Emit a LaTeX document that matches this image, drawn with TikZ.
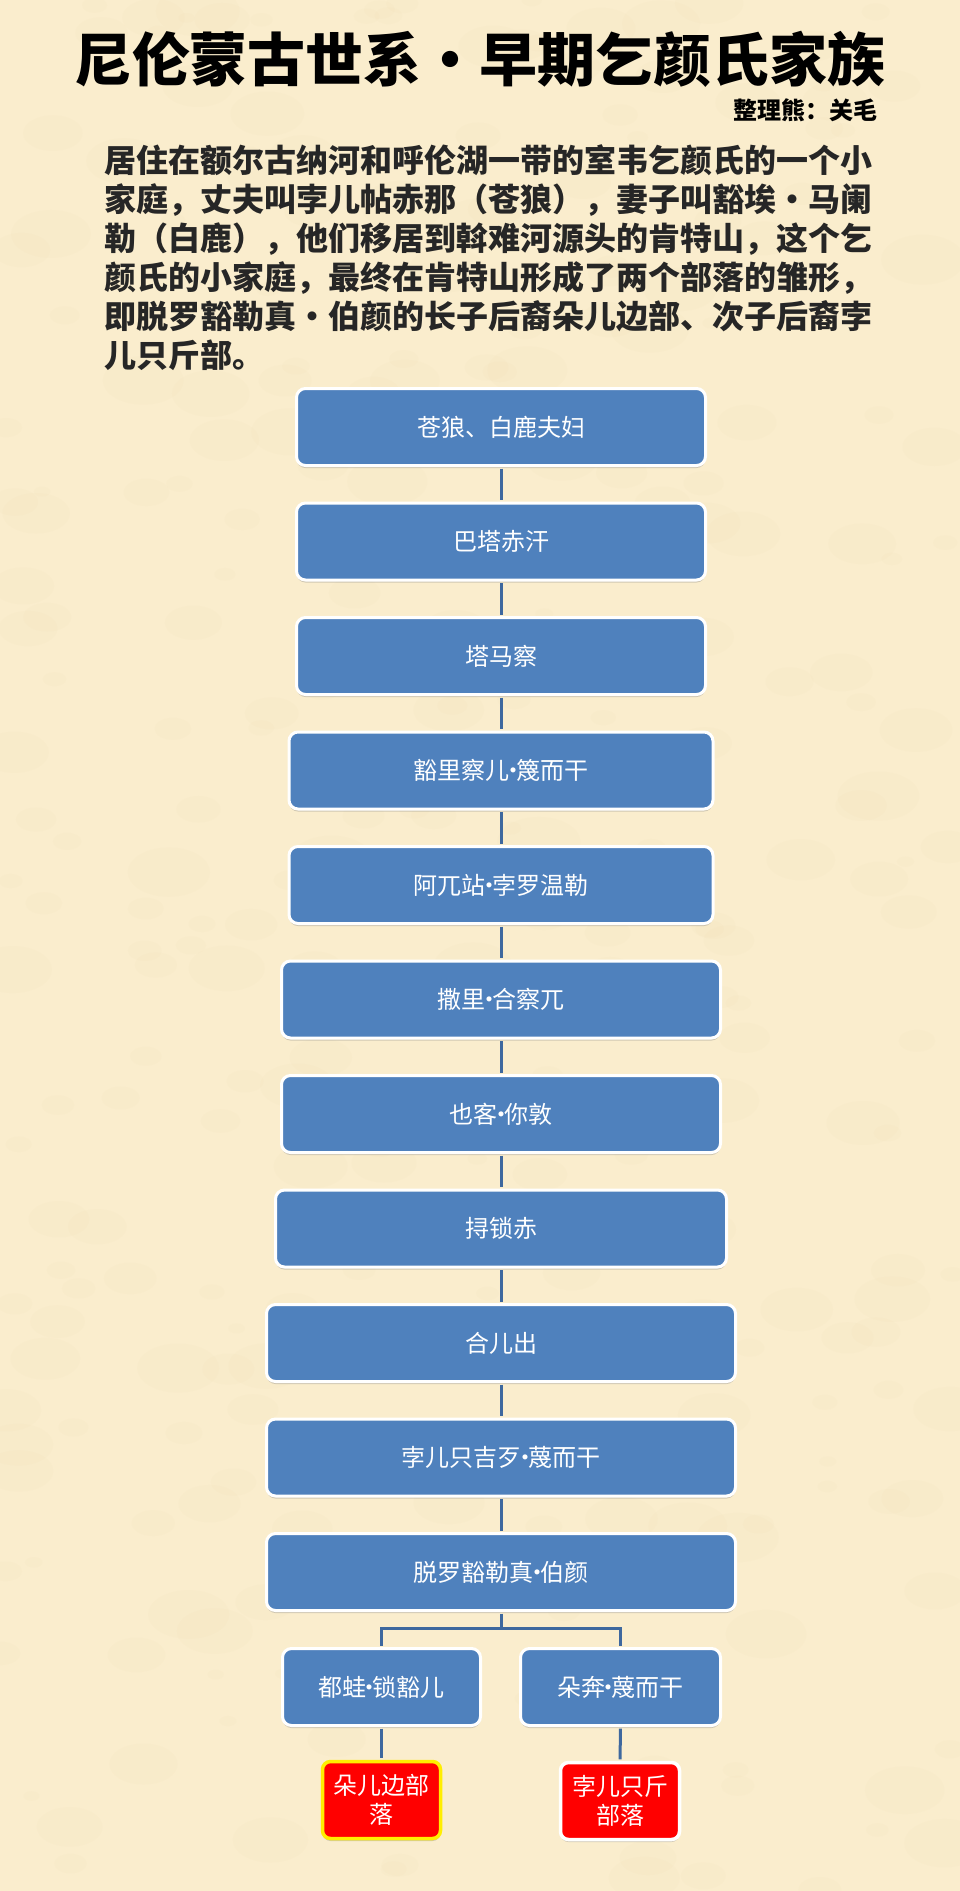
\documentclass[tikz,border=0pt]{standalone}
\usepackage{fontspec}
\newfontfamily\cjk{Noto Sans CJK SC}
\usetikzlibrary{shadows,calc}
\definecolor{bg}{RGB}{250,237,205}
\definecolor{blot}{RGB}{236,214,170}
\definecolor{boxblue}{RGB}{79,129,189}
\definecolor{linkblue}{RGB}{62,104,158}
\definecolor{tribered}{RGB}{255,0,0}
\definecolor{tribeyellow}{RGB}{255,238,0}
\newcommand{\mdot}{\makebox[1em]{·}}
\newcommand{\sdot}{\makebox[0.28em]{·}}
\begin{document}
\begin{tikzpicture}[x=1pt,y=-1pt,
  gen/.style={draw=white, line width=3pt, fill=boxblue, rounded corners=9pt,
    minimum height=77pt, text=white, font=\cjk\fontsize{24}{29}\selectfont,
    align=center, inner sep=0pt,
    drop shadow={shadow xshift=0pt, shadow yshift=-2.5pt, opacity=0.35}},
  tribe/.style={gen, fill=tribered, line width=3.5pt, minimum width=118pt,
    minimum height=77pt, rounded corners=8pt},
  link/.style={draw=linkblue, line width=3pt, shorten <=1.5pt, shorten >=1.5pt},
  para/.style={anchor=base west, inner sep=0pt, text=black!85,
    font=\cjk\bfseries\fontsize{32}{39}\selectfont},
]
\useasboundingbox (0,0) rectangle (960,1891);
% background
\fill[bg] (0,0) rectangle (960,1891);
\begin{scope}
\clip (0,0) rectangle (960,1891);
\pgfmathsetseed{11}
\foreach \i in {1,...,320}{
  \pgfmathsetmacro\xx{rnd*960}
  \pgfmathsetmacro\yy{rnd*1891}
  \pgfmathsetmacro\rr{8+rnd*34}
  \fill[blot, opacity=0.08] (\xx,\yy) ellipse [x radius=\rr, y radius=0.6*\rr];
}
\end{scope}

% title and editor
\node[font=\cjk\bfseries\fontsize{58}{62}\selectfont, text=black, inner sep=0pt]
  (title) at (480,59) {尼伦蒙古世系\mdot 早期乞颜氏家族};
\node[font=\cjk\bfseries\fontsize{24}{26}\selectfont, text=black, anchor=east, inner sep=0pt]
  (editor) at (878,110) {整理熊：关毛};

% paragraph
\node[para] (p1) at (104,172) {居住在额尔古纳河和呼伦湖一带的室韦乞颜氏的一个小};
\node[para] (p2) at (104,211) {家庭，丈夫叫孛儿帖赤那（苍狼），妻子叫豁埃\mdot 马阑};
\node[para] (p3) at (104,250) {勒（白鹿），他们移居到斡难河源头的肯特山，这个乞};
\node[para] (p4) at (104,289) {颜氏的小家庭，最终在肯特山形成了两个部落的雏形，};
\node[para] (p5) at (104,328) {即脱罗豁勒真\mdot 伯颜的长子后裔朵儿边部、次子后裔孛};
\node[para] (p6) at (104,367) {儿只斤部。};

% main lineage
\node[gen, minimum width=409pt] (b1)  at (501,427)    {苍狼、白鹿夫妇};
\node[gen, minimum width=409pt] (b2)  at (501,541.5)  {巴塔赤汗};
\node[gen, minimum width=409pt] (b3)  at (501,656)    {塔马察};
\node[gen, minimum width=424pt] (b4)  at (501,770.5)  {豁里察儿\sdot 篾而干};
\node[gen, minimum width=424pt] (b5)  at (501,885)    {阿兀站\sdot 孛罗温勒};
\node[gen, minimum width=439pt] (b6)  at (501,999.5)  {撒里\sdot 合察兀};
\node[gen, minimum width=439pt] (b7)  at (501,1114)   {也客\sdot 你敦};
\node[gen, minimum width=451pt] (b8)  at (501,1228.5) {挦锁赤};
\node[gen, minimum width=469pt] (b9)  at (501,1343)   {合儿出};
\node[gen, minimum width=469pt] (b10) at (501,1457.5) {孛儿只吉歹\sdot 蔑而干};
\node[gen, minimum width=469pt] (b11) at (501,1572)   {脱罗豁勒真\sdot 伯颜};

% sons
\node[gen, minimum width=198pt] (c1) at (381.5,1687) {都蛙\sdot 锁豁儿};
\node[gen, minimum width=200pt] (c2) at (620.5,1687) {朵奔\sdot 蔑而干};

% tribes
\node[tribe, draw=tribeyellow] (r1) at (381.5,1800) {朵儿边部\\落};
\node[tribe, draw=white, minimum width=119pt] (r2) at (620,1801) {孛儿只斤\\部落};

% connectors
\foreach \a/\b in {b1/b2,b2/b3,b3/b4,b4/b5,b5/b6,b6/b7,b7/b8,b8/b9,b9/b10,b10/b11}
  \draw[link] (\a) -- (\b);
\coordinate (br) at (501,1628);
\draw[link, shorten >=0pt] (b11) -- (br);
\draw[link, shorten <=0pt] (br) -| (c1.north);
\draw[link, shorten <=0pt] (br) -| (c2.north);
\draw[link] (c1) -- (r1);
\draw[link] (c2) -- (r2);
\end{tikzpicture}
\end{document}
